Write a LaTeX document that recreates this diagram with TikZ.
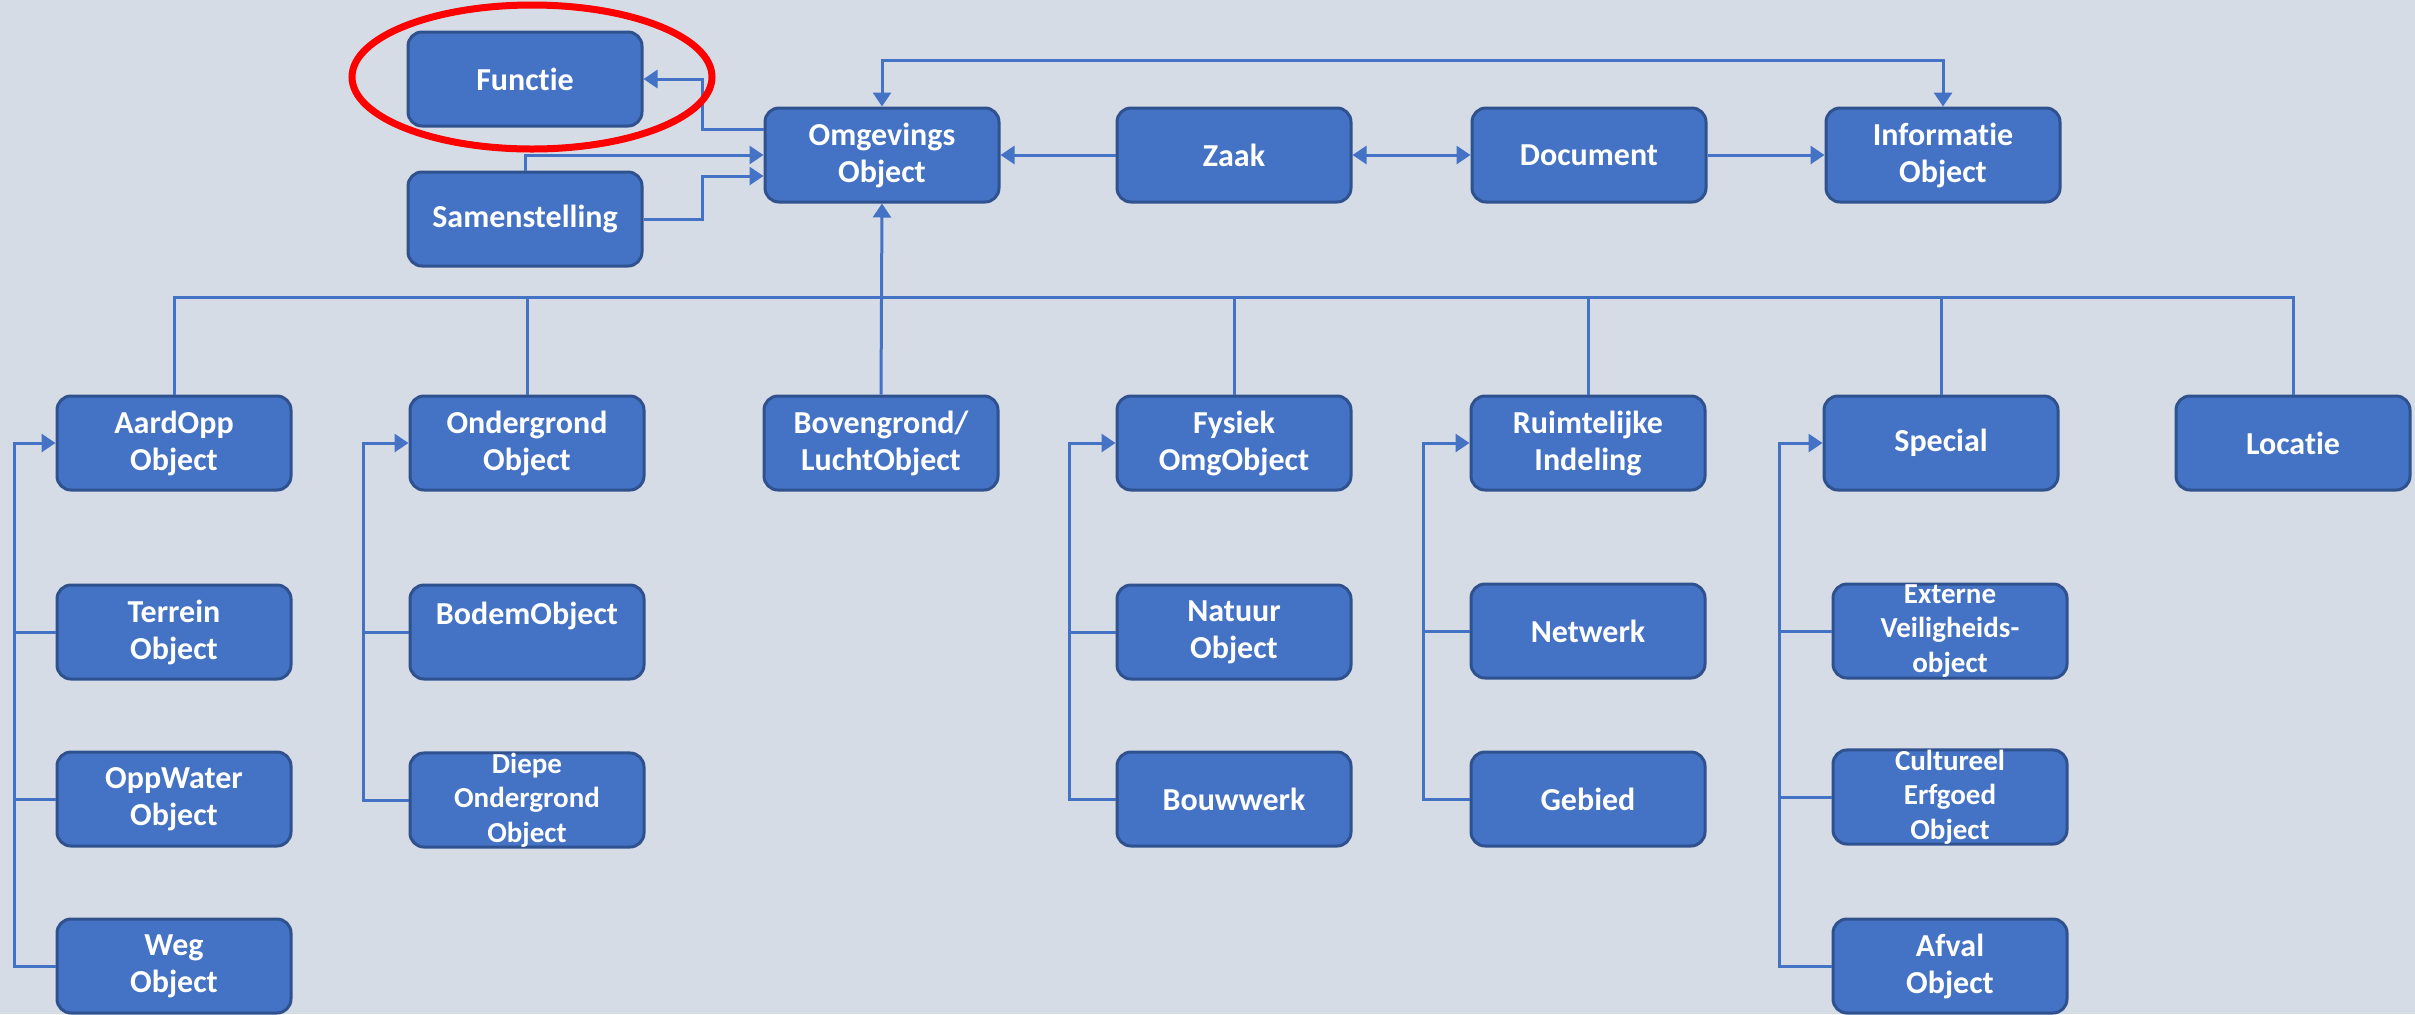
\documentclass[tikz,border=0pt]{standalone}
\usepackage{fontspec}
\setmainfont{Carlito}[Ligatures=NoCommon]
\usetikzlibrary{arrows.meta}
\definecolor{bg}{HTML}{D6DCE5}
\definecolor{boxfill}{HTML}{4472C4}
\definecolor{boxedge}{HTML}{2F528F}
\definecolor{wirec}{HTML}{4472C4}
\begin{document}
\begin{tikzpicture}[x=0.5pt,y=-0.5pt,
  box/.style={draw=boxedge, fill=boxfill, line width=1.5pt, rounded corners=7pt,
    minimum width=117pt, minimum height=47pt, inner sep=0pt, align=center,
    text=white, font=\bfseries\fontsize{16}{18.5}\selectfont},
  small/.style={font=\bfseries\fontsize{14.5}{17.2}\selectfont},
  wire/.style={draw=wirec, line width=1.5pt},
  arr/.style={wire, -{Triangle[length=7pt,width=9pt]}},
  arrs/.style={wire, {Triangle[length=7pt,width=9pt]}-{Triangle[length=7pt,width=9pt]}}]
\fill[bg] (0,0) rectangle (2415,1014);
\useasboundingbox (0,0) rectangle (2415,1014);

% helper levels
\coordinate (top) at (0,60);
\coordinate (bus) at (0,297);
\coordinate (fx) at (702,0);
\coordinate (s1) at (14,0);
\coordinate (s2) at (363,0);
\coordinate (s4) at (1069,0);
\coordinate (s5) at (1423,0);
\coordinate (s6) at (1779,0);

% upper row
\node[box] (functie) at (525,79) {Functie};
\node[box] (samen) at (525,219) {Samenstelling};
\node[box] (omg) at (882,155) {Omgevings\\Object};
\node[box] (zaak) at (1234,155) {Zaak};
\node[box] (doc) at (1589,155) {Document};
\node[box] (info) at (1943,155) {Informatie\\Object};

% object types
\node[box] (aard) at (174,443) {AardOpp\\Object};
\node[box] (onder) at (527,443) {Ondergrond\\Object};
\node[box] (bov) at (881,443) {Bovengrond/\\LuchtObject};
\node[box] (fys) at (1234,443) {Fysiek\\OmgObject};
\node[box] (ruim) at (1588,443) {Ruimtelijke\\Indeling};
\node[box] (spec) at (1941,443) {Special};
\node[box] (loc) at (2293,443) {Locatie};

% sub types
\node[box] (terrein) at (174,632) {Terrein\\Object};
\node[box] (oppw) at (174,799) {OppWater\\Object};
\node[box] (weg) at (174,966) {Weg\\Object};
\node[box] (bodem) at (527,632) {BodemObject\\~};
\node[box,small] (diepe) at (527,800) {Diepe\\Ondergrond\\Object};
\node[box] (natuur) at (1234,632) {Natuur\\Object};
\node[box] (bouw) at (1234,799) {Bouwwerk};
\node[box] (netwerk) at (1588,631) {Netwerk};
\node[box] (gebied) at (1588,799) {Gebied};
\node[box,small] (extern) at (1950,631) {Externe\\Veiligheids-\\object};
\node[box,small] (cult) at (1950,797) {Cultureel\\Erfgoed\\Object};
\node[box] (afval) at (1950,966) {Afval\\Object};

% upper connectors
\draw[arr] ([yshift=13pt]omg.west) -- ([yshift=13pt]omg.west -| fx) |- (functie.east);
\draw[arr] (samen.north) |- (omg.west);
\draw[arr] (samen.east) -- (samen.east -| fx) |- ([yshift=-10.5pt]omg.west);
\draw[arrs] (omg.north) -- (omg.north |- top) -| (info.north);
\draw[arr] (zaak.west) -- (omg.east);
\draw[arrs] (zaak.east) -- (doc.west);
\draw[arr] (doc.east) -- (info.west);

% generalisation bus
\draw[wire] (aard.north) -- (aard.north |- bus) -- (loc.north |- bus) -- (loc.north);
\foreach \n in {onder,fys,ruim,spec}
  \draw[wire] (\n.north) -- (\n.north |- bus);
\draw[arr] (bov.north) -- (omg.south);

% spines to the sub types
\draw[arr] (weg.west) -- (weg.west -| s1) -- (aard.west -| s1) -- (aard.west);
\draw[wire] (terrein.west) -- (terrein.west -| s1);
\draw[wire] (oppw.west) -- (oppw.west -| s1);

\draw[arr] (diepe.west) -- (diepe.west -| s2) -- (onder.west -| s2) -- (onder.west);
\draw[wire] (bodem.west) -- (bodem.west -| s2);

\draw[arr] (bouw.west) -- (bouw.west -| s4) -- (fys.west -| s4) -- (fys.west);
\draw[wire] (natuur.west) -- (natuur.west -| s4);

\draw[arr] (gebied.west) -- (gebied.west -| s5) -- (ruim.west -| s5) -- (ruim.west);
\draw[wire] (netwerk.west) -- (netwerk.west -| s5);

\draw[arr] (afval.west) -- (afval.west -| s6) -- (spec.west -| s6) -- (spec.west);
\draw[wire] (extern.west) -- (extern.west -| s6);
\draw[wire] (cult.west) -- (cult.west -| s6);

% highlight
\draw[red, line width=3.5pt] (532,77) ellipse [x radius=90pt, y radius=36pt];
\end{tikzpicture}
\end{document}
